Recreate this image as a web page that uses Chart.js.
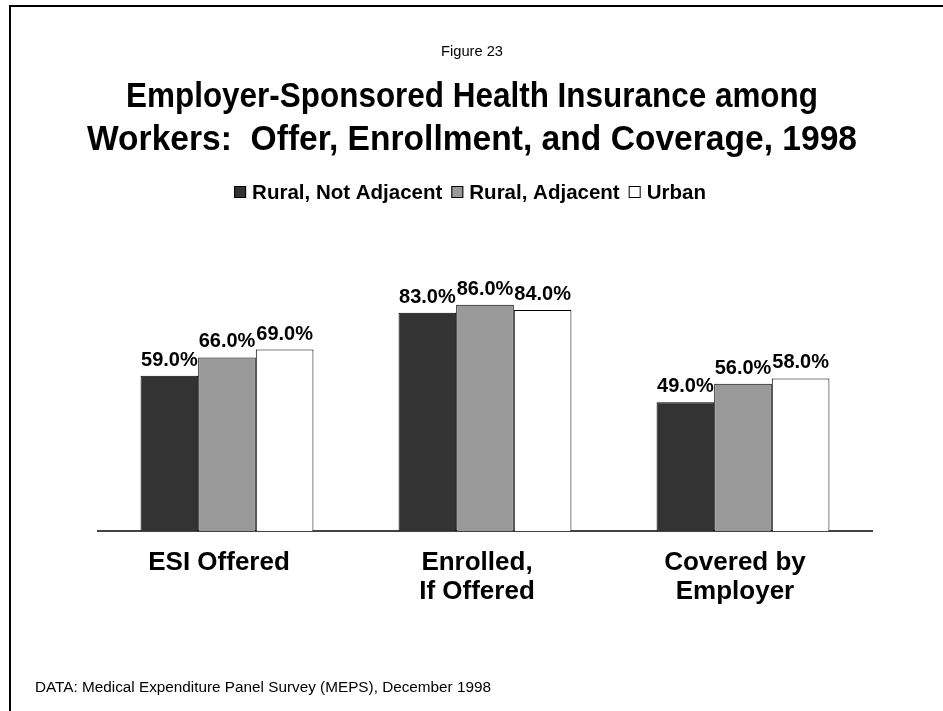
<!DOCTYPE html>
<html>
<head>
<meta charset="utf-8">
<title>Employer-Sponsored Health Insurance among Workers, 1998</title>
<script src="https://cdn.jsdelivr.net/npm/chart.js@4/dist/chart.umd.min.js"></script>
<style>
  html, body { margin: 0; padding: 0; background: #fff; }
  #wrap { position: relative; width: 943px; height: 711px; }
</style>
</head>
<body>
<div id="wrap"><canvas id="chart" width="943" height="711"></canvas></div>
<script>
// Categories (multi-line tick labels)
const categories = [['ESI Offered'], ['Enrolled,', 'If Offered'], ['Covered by', 'Employer']];

// Percent of workers, by county type
const ruralNotAdjacent = [59.0, 83.0, 49.0];
const ruralAdjacent    = [66.0, 86.0, 56.0];
const urban            = [69.0, 84.0, 58.0];

const seriesNames = ['Rural, Not Adjacent', 'Rural, Adjacent', 'Urban'];
const seriesColors = ['#333333', '#999999', '#ffffff'];

const figureLabel = 'Figure 23';
const titleLines = ['Employer-Sponsored Health Insurance among', 'Workers:  Offer, Enrollment, and Coverage, 1998'];
const sourceNote = 'DATA: Medical Expenditure Panel Survey (MEPS), December 1998';

const FONT = '"Liberation Sans", Arial, Helvetica, sans-serif';

// Draws text centred at (cx, cy), squeezed horizontally to a set width
function fitText(ctx, text, cx, cy, width) {
  const w = ctx.measureText(text).width;
  ctx.save();
  ctx.translate(cx, cy);
  ctx.scale(width / w, 1);
  ctx.textAlign = 'center';
  ctx.fillText(text, 0, 0);
  ctx.restore();
}

// Header, legend, frame and source note drawn on the canvas
const decorPlugin = {
  id: 'decor',
  afterDraw(chart) {
    const ctx = chart.ctx;
    ctx.save();
    // frame along the top and left edges
    ctx.strokeStyle = '#000';
    ctx.lineWidth = 2;
    ctx.beginPath();
    ctx.moveTo(943, 6);
    ctx.lineTo(10, 6);
    ctx.lineTo(10, 711);
    ctx.stroke();

    ctx.fillStyle = '#000';
    ctx.textBaseline = 'middle';
    ctx.font = '15px ' + FONT;
    fitText(ctx, figureLabel, 472, 52, 62);

    ctx.font = 'bold 35px ' + FONT;
    fitText(ctx, titleLines[0], 472, 97, 692);
    fitText(ctx, titleLines[1], 472, 140, 770);

    // legend
    ctx.font = 'bold 20.5px ' + FONT;
    ctx.textAlign = 'left';
    const box = 12, gapBox = 6, gapItem = 9;
    let total = 0;
    const widths = seriesNames.map(n => ctx.measureText(n).width);
    widths.forEach(w => total += box + gapBox + w);
    total += gapItem * (seriesNames.length - 1);
    let x = 470 - total / 2;
    const ly = 192;
    seriesNames.forEach((name, i) => {
      ctx.fillStyle = seriesColors[i];
      ctx.fillRect(x, ly - box / 2, box, box);
      ctx.strokeStyle = '#000';
      ctx.lineWidth = 1;
      ctx.strokeRect(x + 0.5, ly - box / 2 + 0.5, box - 1, box - 1);
      ctx.fillStyle = '#000';
      ctx.fillText(name, x + box + gapBox, ly + 1);
      x += box + gapBox + widths[i] + gapItem;
    });

    // source note
    ctx.font = '15.3px ' + FONT;
    ctx.textAlign = 'left';
    ctx.fillText(sourceNote, 35, 688);
    ctx.restore();
  }
};

// Value labels above each bar
const valueLabelPlugin = {
  id: 'valueLabels',
  afterDatasetsDraw(chart) {
    const ctx = chart.ctx;
    ctx.save();
    ctx.font = 'bold 20px ' + FONT;
    ctx.fillStyle = '#000';
    ctx.textAlign = 'center';
    ctx.textBaseline = 'alphabetic';
    chart.data.datasets.forEach((ds, di) => {
      chart.getDatasetMeta(di).data.forEach((bar, i) => {
        ctx.fillText(ds.data[i].toFixed(1) + '%', bar.x, bar.y - 10);
      });
    });
    ctx.restore();
  }
};

new Chart(document.getElementById('chart'), {
  type: 'bar',
  data: {
    labels: categories,
    datasets: [
      { label: seriesNames[0], data: ruralNotAdjacent, backgroundColor: seriesColors[0] },
      { label: seriesNames[1], data: ruralAdjacent, backgroundColor: seriesColors[1] },
      { label: seriesNames[2], data: urban, backgroundColor: seriesColors[2] }
    ]
  },
  options: {
    responsive: false,
    animation: false,
    events: [],
    layout: { padding: { left: 98, right: 71, top: 268, bottom: 100 } },
    datasets: {
      bar: {
        borderColor: '#000',
        borderWidth: 1,
        categoryPercentage: 0.67,
        barPercentage: 1.0
      }
    },
    plugins: {
      legend: { display: false },
      title: { display: false },
      tooltip: { enabled: false }
    },
    scales: {
      x: {
        grid: { display: false, drawTicks: false },
        border: { display: true, color: '#444', width: 2 },
        ticks: {
          color: '#000',
          font: { family: FONT, size: 26, weight: 'bold', lineHeight: 1.12 },
          padding: 17,
          labelOffset: -8,
          maxRotation: 0,
          autoSkip: false
        },
        afterFit(scale) { scale.height = 80; }
      },
      y: {
        display: false,
        min: 0,
        max: 100
      }
    }
  },
  plugins: [decorPlugin, valueLabelPlugin]
});
</script>
</body>
</html>
